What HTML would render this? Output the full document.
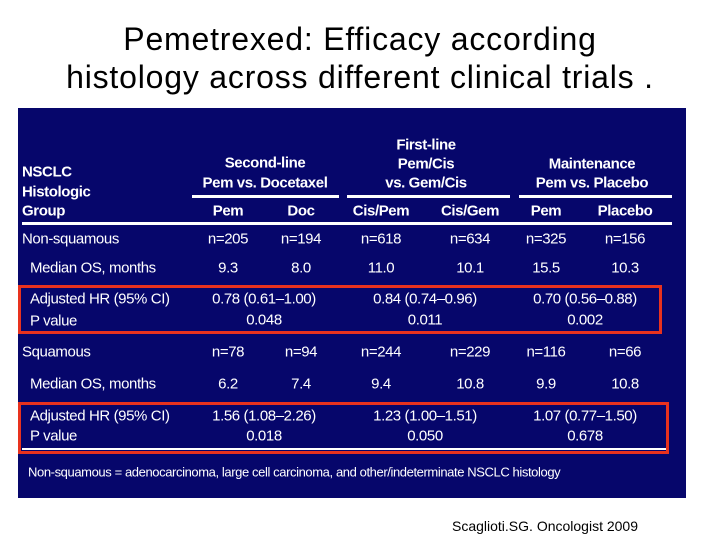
<!DOCTYPE html>
<html><head><meta charset="utf-8"><style>
body{margin:0;width:720px;height:540px;background:#fff;position:relative;overflow:hidden;font-family:"Liberation Sans",Arial,sans-serif}
.t{position:absolute;white-space:nowrap;color:#fff;font-size:15px;letter-spacing:-0.4px;transform:translate(-50%,-50%)}
.l{transform:translate(0,-50%)}
.b{font-weight:bold}
.hl{position:absolute;height:3px;background:#fff}
.box{position:absolute;border:3px solid #e8321e;box-sizing:border-box}
</style></head><body>
<div style="position:absolute;left:0;width:720px;top:20px;text-align:center;font-size:32px;line-height:38px;color:#000;letter-spacing:0.8px">Pemetrexed: Efficacy according<br>histology across different clinical trials .</div>
<div style="position:absolute;left:18px;top:108px;width:668px;height:390px;background:#06066b"></div>
<div class="hl" style="left:192px;width:147px;top:195px"></div>
<div class="hl" style="left:347px;width:163px;top:195px"></div>
<div class="hl" style="left:519px;width:153px;top:195px"></div>
<div class="hl" style="left:22px;width:650px;top:222px"></div>
<div class="hl" style="left:22px;width:646px;top:448px;height:2px"></div>
<div class="box" style="left:18px;top:285px;width:644px;height:49px"></div>
<div class="box" style="left:18px;top:402px;width:651px;height:52px"></div>
<div style="position:absolute;left:452px;top:518px;font-size:14px;color:#000">Scaglioti.SG. Oncologist 2009</div>
<script>
const cols=[228,301,381,470,546,625];
const pairs=[264,425,585];
const subHeads=["Pem","Doc","Cis/Pem","Cis/Gem","Pem","Placebo"];
const nsN=["n=205","n=194","n=618","n=634","n=325","n=156"];
const nsOS=["9.3","8.0","11.0","10.1","15.5","10.3"];
const nsHR=["0.78 (0.61–1.00)","0.84 (0.74–0.96)","0.70 (0.56–0.88)"];
const nsP=["0.048","0.011","0.002"];
const sqN=["n=78","n=94","n=244","n=229","n=116","n=66"];
const sqOS=["6.2","7.4","9.4","10.8","9.9","10.8"];
const sqHR=["1.56 (1.08–2.26)","1.23 (1.00–1.51)","1.07 (0.77–1.50)"];
const sqP=["0.018","0.050","0.678"];
const root=document.body;
function add(txt,x,y,cls,name,extra){
  const d=document.createElement('div');
  d.className='t '+(cls||'');
  d.textContent=txt;
  d.style.left=x+'px';d.style.top=y+'px';
  if(extra)d.style.cssText+=extra;
  
  
  root.appendChild(d);
}
add("NSCLC",22,172,'l b','row-header-label');
add("Histologic",22,192,'l b','row-header-label');
add("Group",22,211,'l b','row-header-label');
add("Second-line",265,163,'b','group-header');
add("Pem vs. Docetaxel",265,183,'b','group-header');
add("First-line",426,145,'b','group-header');
add("Pem/Cis",426,164,'b','group-header');
add("vs. Gem/Cis",426,183,'b','group-header');
add("Maintenance",592,164,'b','group-header');
add("Pem vs. Placebo",592,183,'b','group-header');
subHeads.forEach((s,i)=>add(s,cols[i],211,'b','column-header'));
add("Non-squamous",22,239,'l','row-label');
add("Median OS, months",30,268,'l','row-label');
add("Adjusted HR (95% CI)",30,299,'l','row-label');
add("P value",30,321,'l','row-label');
add("Squamous",22,352,'l','row-label');
add("Median OS, months",30,384,'l','row-label');
add("Adjusted HR (95% CI)",30,416,'l','row-label');
add("P value",30,436,'l','row-label');
nsN.forEach((v,i)=>add(v,cols[i],239,'','cell-n'));
nsOS.forEach((v,i)=>add(v,cols[i],268,'','cell-os'));
nsHR.forEach((v,i)=>add(v,pairs[i],299,'','cell-hr'));
nsP.forEach((v,i)=>add(v,pairs[i],320,'','cell-p'));
sqN.forEach((v,i)=>add(v,cols[i],352,'','cell-n'));
sqOS.forEach((v,i)=>add(v,cols[i],384,'','cell-os'));
sqHR.forEach((v,i)=>add(v,pairs[i],416,'','cell-hr'));
sqP.forEach((v,i)=>add(v,pairs[i],436,'','cell-p'));
add("Non-squamous = adenocarcinoma, large cell carcinoma, and other/indeterminate NSCLC histology",28,472,'l','footnote','font-size:13px;');
</script>
</body></html>
